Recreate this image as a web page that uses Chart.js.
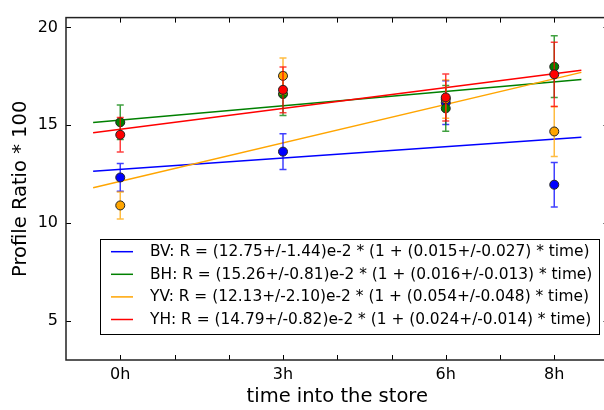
<!DOCTYPE html>
<html><head><meta charset="utf-8">
<script src="https://cdn.jsdelivr.net/npm/chart.js@4/dist/chart.umd.min.js"></script>
<style>html,body{margin:0;padding:0;overflow:hidden;background:#fff;width:604px;height:410px}
#wrap{position:relative;width:614px;height:410px}</style>
</head><body><div id="wrap"><canvas id="c" width="614" height="410"></canvas></div>
<script>
// ---- data ----
const hours = [0, 3, 6, 8];
const tickHours = [0, 3, 6, 8];
const tickLabels = ['0h', '3h', '6h', '8h'];
const seriesNames = ['BV', 'BH', 'YV', 'YH'];
const seriesColors = ['#0000ff', '#008000', '#ffa500', '#ff0000'];
const BV = [12.33, 13.65, 16.15, 11.96];
const BV_err = [0.71, 0.91, 1.12, 1.14];
const BH = [15.15, 16.59, 15.86, 17.99];
const BH_err = [0.88, 1.10, 1.17, 1.58];
const YV = [10.90, 17.52, 16.33, 14.68];
const YV_err = [0.69, 0.92, 0.98, 1.28];
const YH = [14.51, 16.81, 16.42, 17.60];
const YH_err = [0.88, 1.17, 1.20, 1.64];
const fitT = [-0.5, 8.5];
const BV_fit = [12.65, 14.38];
const BH_fit = [15.14, 17.34];
const YV_fit = [11.80, 17.70];
const YH_fit = [14.61, 17.81];
const legendLabels = [
  'BV: R = (12.75+/-1.44)e-2 * (1 + (0.015+/-0.027) * time)',
  'BH: R = (15.26+/-0.81)e-2 * (1 + (0.016+/-0.013) * time)',
  'YV: R = (12.13+/-2.10)e-2 * (1 + (0.054+/-0.048) * time)',
  'YH: R = (14.79+/-0.82)e-2 * (1 + (0.024+/-0.014) * time)'
];
const xTitle = 'time into the store';
const yTitle = 'Profile Ratio * 100';

const values = [BV, BH, YV, YH];
const errs = [BV_err, BH_err, YV_err, YH_err];
const fits = [BV_fit, BH_fit, YV_fit, YH_fit];

Chart.defaults.font.family = "'DejaVu Sans', sans-serif";
Chart.defaults.color = '#000';

function hexA(hex, a) {
  const r = parseInt(hex.slice(1,3),16), g = parseInt(hex.slice(3,5),16), b = parseInt(hex.slice(5,7),16);
  return `rgba(${r},${g},${b},${a})`;
}

const datasets = [];
seriesNames.forEach((n, i) => {
  datasets.push({
    type: 'line', label: n + ' fit', isFit: true, legendText: legendLabels[i],
    data: fitT.map((t, k) => ({x: t, y: fits[i][k]})),
    borderColor: seriesColors[i], borderWidth: 1.5, pointRadius: 0, fill: false,
    order: 20 - i
  });
});
seriesNames.forEach((n, i) => {
  datasets.push({
    type: 'scatter', label: n,
    data: hours.map((h, k) => ({x: h, y: values[i][k]})),
    errors: errs[i], errColor: hexA(seriesColors[i], 0.75),
    backgroundColor: seriesColors[i], borderColor: '#222', borderWidth: 1,
    pointRadius: 4.5, pointHoverRadius: 4.5,
    order: 10 - i
  });
});

const errorBarPlugin = {
  id: 'errorbars',
  beforeDatasetDraw(chart, args) {
    const ds = chart.data.datasets[args.index];
    if (!ds.errors) return;
    const {ctx, scales: {x, y}} = chart;
    ctx.save();
    ctx.strokeStyle = ds.errColor;
    ctx.lineWidth = 1.5;
    ds.data.forEach((p, k) => {
      const px = x.getPixelForValue(p.x);
      const top = y.getPixelForValue(p.y + ds.errors[k]);
      const bot = y.getPixelForValue(p.y - ds.errors[k]);
      ctx.beginPath();
      ctx.moveTo(px, top); ctx.lineTo(px, bot);
      ctx.moveTo(px - 3.5, top); ctx.lineTo(px + 3.5, top);
      ctx.moveTo(px - 3.5, bot); ctx.lineTo(px + 3.5, bot);
      ctx.stroke();
    });
    ctx.restore();
  }
};

const framePlugin = {
  id: 'frame',
  afterDatasetsDraw(chart) {
    const {ctx, chartArea: a, scales: {x, y}} = chart;
    ctx.save();
    ctx.strokeStyle = '#000';
    ctx.lineWidth = 1;
    ctx.beginPath();
    x.ticks.forEach(t => {
      if (t.value <= x.min || t.value >= x.max) return;
      const px = Math.round(x.getPixelForValue(t.value)) + 0.5;
      ctx.moveTo(px, a.bottom); ctx.lineTo(px, a.bottom - 5);
      ctx.moveTo(px, a.top); ctx.lineTo(px, a.top + 5);
    });
    y.ticks.forEach(t => {
      const py = Math.round(y.getPixelForValue(t.value)) + 0.5;
      ctx.moveTo(a.left, py); ctx.lineTo(a.left + 5, py);
      ctx.moveTo(a.right, py); ctx.lineTo(a.right - 5, py);
    });
    ctx.stroke();
    ctx.strokeStyle = '#222';
    ctx.lineWidth = 1.5;
    ctx.strokeRect(a.left, a.top, a.right - a.left, a.bottom - a.top);
    ctx.restore();
  }
};

const legendPlugin = {
  id: 'boxLegend',
  afterDraw(chart) {
    const {ctx} = chart;
    const fitsDs = chart.data.datasets.filter(d => d.isFit);
    const bx = 100.5, by = 239.5, bw = 499, bh = 95;
    ctx.save();
    ctx.fillStyle = '#fff';
    ctx.fillRect(bx, by, bw, bh);
    ctx.strokeStyle = '#000';
    ctx.lineWidth = 1;
    ctx.strokeRect(bx, by, bw, bh);
    ctx.font = "15.4px 'DejaVu Sans', sans-serif";
    ctx.textBaseline = 'middle';
    ctx.textAlign = 'left';
    fitsDs.forEach((d, i) => {
      const cy = 251.7 + i * 22.6;
      ctx.strokeStyle = d.borderColor;
      ctx.lineWidth = 1.5;
      ctx.beginPath(); ctx.moveTo(111, cy); ctx.lineTo(133, cy); ctx.stroke();
      ctx.fillStyle = '#000';
      ctx.fillText(d.legendText, 150, cy + 0.5);
    });
    ctx.restore();
  }
};

new Chart(document.getElementById('c'), {
  data: {datasets},
  options: {
    responsive: false, animation: false, devicePixelRatio: 1,
    layout: {padding: {top: 14.7, right: 4.6, left: 0, bottom: 0}},
    plugins: {legend: {display: false}, tooltip: {enabled: false}},
    events: [],
    scales: {
      x: {
        type: 'linear', min: -1, max: 9,
        grid: {display: false, drawTicks: false}, border: {display: false},
        ticks: {
          stepSize: 1, autoSkip: false, maxRotation: 0, padding: 5,
          font: {size: 16}, color: '#000',
          callback: v => { const k = tickHours.indexOf(v); return k >= 0 ? tickLabels[k] : ''; }
        },
        title: {display: true, text: xTitle, font: {size: 19.5}, color: '#000', padding: {top: 0, bottom: 1}},
        afterFit: s => { s.height = 50; }
      },
      y: {
        type: 'linear', min: 3, max: 20.5,
        grid: {display: false, drawTicks: false}, border: {display: false},
        ticks: {stepSize: 5, includeBounds: false, padding: 8, font: {size: 16}, color: '#000'},
        title: {display: true, text: yTitle, font: {size: 19.5}, color: '#000', padding: {top: 9, bottom: 0}},
        afterFit: s => { s.width = 66; }
      }
    }
  },
  plugins: [errorBarPlugin, framePlugin, legendPlugin]
});
</script></body></html>
